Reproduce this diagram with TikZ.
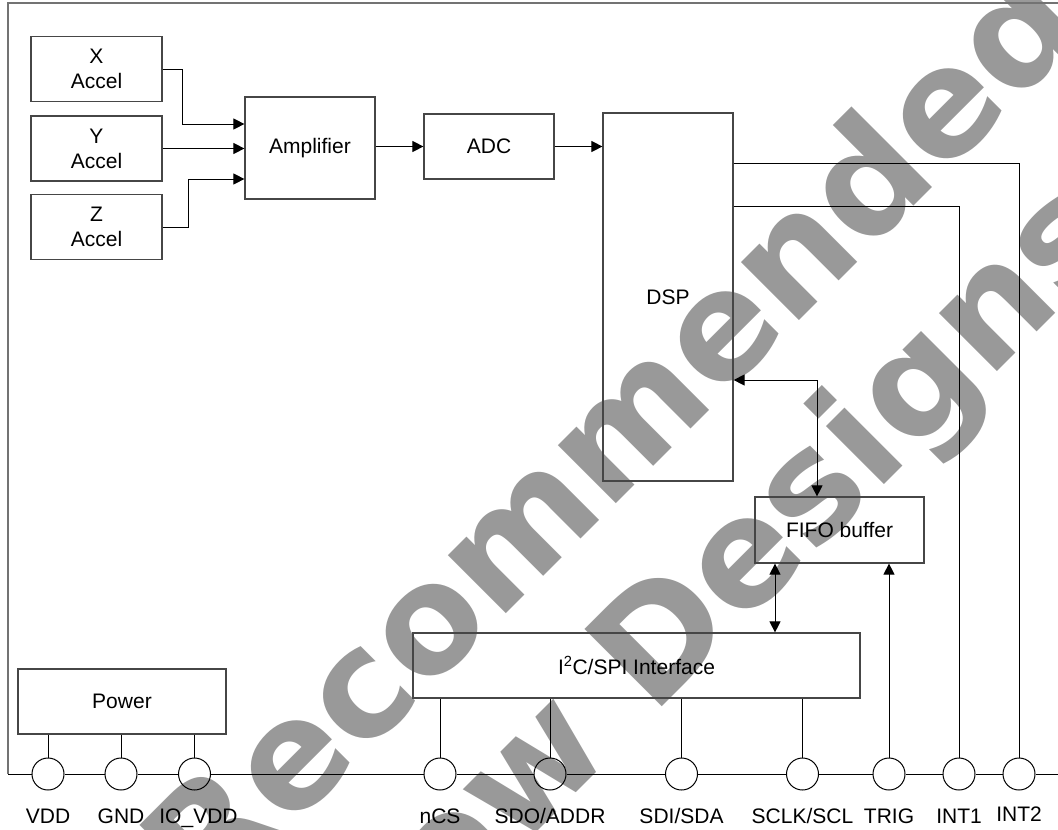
\documentclass[tikz,border=0pt]{standalone}
\usepackage{fontspec}
\setmainfont{Liberation Sans}
\newfontfamily\markfont{DejaVu Sans}
\definecolor{markgray}{RGB}{153,153,153}
\definecolor{edgegray}{RGB}{70,70,70}
\usetikzlibrary{arrows.meta, positioning, calc}

\tikzset{
  block/.style={draw=edgegray, line width=1.2pt, minimum width=130pt, minimum height=65pt,
    align=center, inner sep=0pt, font=\fontsize{21}{25}\selectfont},
  pad/.style={circle, draw=black, line width=1pt, minimum size=32pt, inner sep=0pt},
  pinname/.style={anchor=base, inner sep=0pt, font=\fontsize{21}{25}\selectfont},
  wire/.style={black, line width=1pt},
  arr/.style={wire, -{Triangle[length=11pt, width=11pt]}},
  dblarr/.style={wire, {Triangle[length=11pt, width=11pt]}-{Triangle[length=11pt, width=11pt]}},
  stamp/.style={markgray, rotate=45, anchor=base, inner sep=0pt,
    font=\markfont\bfseries\fontsize{150}{160}\selectfont}
}

\begin{document}
\begin{tikzpicture}[x=1pt, y=-1pt]
  \useasboundingbox (0,0) rectangle (1058,830);
  \clip (0,0) rectangle (1058,830);

  % watermark
  \node[stamp] (mark1) at (524,596) {Not Recommended};
  \node[stamp] (mark2) at (638,731) {for New Designs};

  % outer frame
  \draw[draw=black!55, line width=1.6pt] (1058,3) -- (8,3) -- (8,774);

  % blocks
  \node[block, minimum width=131pt] (xacc) at (96.5,69) {X\\Accel};
  \node[block, minimum width=131pt] (yacc) at (96.5,148.5) {Y\\Accel};
  \node[block, minimum width=131pt] (zacc) at (96.5,227) {Z\\Accel};
  \node[block, minimum height=102pt] (amp) at (310,148) {Amplifier};
  \node[block] (adc) at (489,146.5) {ADC};
  \node[block, minimum height=368pt] (dsp) at (668,297) {DSP};
  \node[block, minimum width=169pt, minimum height=66pt] (fifo) at (839.5,530) {FIFO buffer};
  \node[block, minimum width=447pt] (iface) at (636.5,665.5) {I\textsuperscript{2}C/SPI Interface};
  \node[block, minimum width=208pt] (power) at (122,701.5) {Power};

  % pads
  \node[pad] (vdd) at (48,774) {};
  \node[pad] (gnd) at (121,774) {};
  \node[pad] (iovdd) at (194.5,774) {};
  \node[pad] (ncs) at (440,774) {};
  \node[pad] (sdo) at (550,774) {};
  \node[pad] (sdi) at (681.5,774) {};
  \node[pad] (sclk) at (802.5,774) {};
  \node[pad] (trig) at (889,774) {};
  \node[pad] (int1) at (959,774) {};
  \node[pad] (int2) at (1019,774) {};

  \node[pinname] at ([yshift=-33pt]vdd.south) {VDD};
  \node[pinname] at ([yshift=-33pt]gnd.south) {GND};
  \node[pinname] at ([xshift=4pt, yshift=-33pt]iovdd.south) {IO\_VDD};
  \node[pinname] at ([yshift=-33pt]ncs.south) {nCS};
  \node[pinname] at ([yshift=-33pt]sdo.south) {SDO/ADDR};
  \node[pinname] at ([yshift=-33pt]sdi.south) {SDI/SDA};
  \node[pinname] at ([yshift=-33pt]sclk.south) {SCLK/SCL};
  \node[pinname] at ([yshift=-33pt]trig.south) {TRIG};
  \node[pinname] at ([yshift=-33pt]int1.south) {INT1};
  \node[pinname] at ([yshift=-31pt]int2.south) {INT2};

  % bus between pads
  \draw[wire] (8,774) -- (vdd.west) (vdd.east) -- (gnd.west) (gnd.east) -- (iovdd.west)
    (iovdd.east) -- (ncs.west) (ncs.east) -- (sdo.west) (sdo.east) -- (sdi.west)
    (sdi.east) -- (sclk.west) (sclk.east) -- (trig.west) (trig.east) -- (int1.west)
    (int1.east) -- (int2.west) (int2.east) -- (1058,774);

  % signal path
  \draw[arr] (xacc.east) -- ++(20,0) |- ([yshift=24pt]amp.west);
  \draw[arr] (yacc.east) -- (yacc.east -| amp.west);
  \draw[arr] (zacc.east) -- ++(26,0) |- ([yshift=-31pt]amp.west);
  \draw[arr] (adc.west -| amp.east) -- (adc.west);
  \draw[arr] (adc.east) -- (adc.east -| dsp.west);
  \draw[wire] ([yshift=134pt]dsp.east) -| (int2.north);
  \draw[wire] ([yshift=91pt]dsp.east) -| (int1.north);
  \draw[dblarr] ([yshift=-83pt]dsp.east) -| ([xshift=-22.5pt]fifo.north);
  \draw[dblarr] ([xshift=-64.5pt]fifo.south) -- ([xshift=-64.5pt]fifo.south |- iface.north);
  \draw[arr] (trig.north) -- (trig.north |- fifo.south);

  % interface and power pins
  \draw[wire] (iface.south -| ncs) -- (ncs.north);
  \draw[wire] (iface.south -| sdo) -- (sdo.north);
  \draw[wire] (iface.south -| sdi) -- (sdi.north);
  \draw[wire] (iface.south -| sclk) -- (sclk.north);
  \draw[wire] (power.south -| vdd) -- (vdd.north);
  \draw[wire] (power.south -| gnd) -- (gnd.north);
  \draw[wire] (power.south -| iovdd) -- (iovdd.north);
\end{tikzpicture}
\end{document}
